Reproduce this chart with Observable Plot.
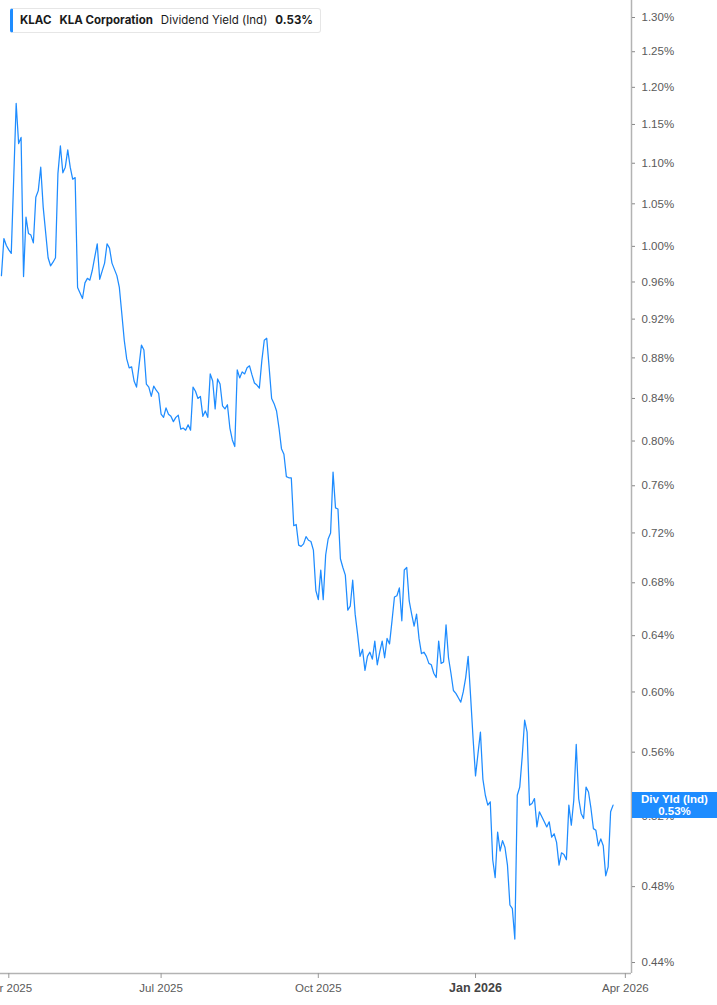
<!DOCTYPE html>
<html>
<head>
<meta charset="utf-8">
<script src="https://cdn.jsdelivr.net/npm/d3@7"></script>
<script src="https://cdn.jsdelivr.net/npm/@observablehq/plot@0.6"></script>
<style>
  html, body { margin: 0; padding: 0; background: #fff; }
  #wrap { position: relative; width: 717px; height: 1005px; overflow: hidden; font-family: "Liberation Sans", Arial, sans-serif; }
  #legend { position: absolute; left: 10px; top: 8px; height: 25px; box-sizing: border-box; padding: 0 7px 0 7px;
    background: #fff; border: 1px solid #e6e6e6; border-left: 3px solid #1e8cff; border-radius: 3px;
    font-family: Inter, "Liberation Sans", sans-serif; font-size: 11.5px; color: #1a1a1a; line-height: 23px; white-space: nowrap; }
  #legend b { font-weight: 700; }
  #legend span { margin-right: 8px; }
  #lastLabel { position: absolute; left: 632px; width: 85px; height: 26px; background: #1e8cff; color: #fff;
    font-family: "Liberation Sans", Arial, sans-serif; font-weight: 700; font-size: 11.5px; line-height: 12px; text-align: center; padding-top: 1px; box-sizing: border-box; }
</style>
</head>
<body>
<div id="wrap"></div>
<script>
// Session index 0 = first trading day of Apr 2025 (2025-04-01); x axis is spaced by trading sessions
const firstSession = -3;
const divYield = [
  0.967, 1.009, 1.001, 0.996, 0.992, 1.081, 1.178, 1.125, 1.133, 0.966,
  1.034, 1.015, 1.013, 1.004, 1.058, 1.066, 1.095, 1.046, 1.016, 0.987,
  0.978, 0.982, 0.987, 1.087, 1.122, 1.088, 1.095, 1.117, 1.095, 1.080,
  1.082, 0.954, 0.948, 0.942, 0.959, 0.964, 0.962, 0.973, 0.988, 1.003,
  0.963, 0.972, 0.981, 1.003, 0.998, 0.981, 0.974, 0.967, 0.954, 0.926,
  0.898, 0.879, 0.870, 0.871, 0.857, 0.851, 0.872, 0.893, 0.888, 0.854,
  0.851, 0.842, 0.852, 0.848, 0.845, 0.825, 0.822, 0.831, 0.825, 0.823,
  0.818, 0.822, 0.824, 0.811, 0.812, 0.810, 0.815, 0.810, 0.851, 0.847,
  0.840, 0.842, 0.823, 0.828, 0.822, 0.864, 0.857, 0.830, 0.859, 0.854,
  0.833, 0.830, 0.834, 0.812, 0.801, 0.795, 0.868, 0.860, 0.866, 0.864,
  0.870, 0.872, 0.863, 0.855, 0.853, 0.850, 0.877, 0.898, 0.900, 0.870,
  0.840, 0.835, 0.828, 0.812, 0.793, 0.788, 0.768, 0.767, 0.767, 0.726,
  0.727, 0.710, 0.709, 0.711, 0.717, 0.714, 0.713, 0.706, 0.674, 0.667,
  0.690, 0.667, 0.702, 0.715, 0.720, 0.772, 0.741, 0.740, 0.699, 0.692,
  0.686, 0.659, 0.662, 0.682, 0.656, 0.641, 0.625, 0.630, 0.615, 0.625,
  0.628, 0.623, 0.636, 0.619, 0.628, 0.636, 0.624, 0.638, 0.634, 0.651,
  0.669, 0.670, 0.676, 0.651, 0.690, 0.692, 0.666, 0.656, 0.647, 0.656,
  0.638, 0.627, 0.628, 0.625, 0.620, 0.619, 0.613, 0.610, 0.636, 0.620,
  0.621, 0.648, 0.624, 0.613, 0.601, 0.599, 0.596, 0.593, 0.600, 0.610,
  0.625, 0.597, 0.569, 0.545, 0.559, 0.573, 0.543, 0.533, 0.527, 0.529,
  0.495, 0.485, 0.511, 0.500, 0.506, 0.502, 0.492, 0.470, 0.468, 0.452,
  0.533, 0.538, 0.557, 0.581, 0.573, 0.527, 0.528, 0.531, 0.514, 0.523,
  0.520, 0.517, 0.514, 0.517, 0.508, 0.510, 0.505, 0.492, 0.499, 0.498,
  0.495, 0.527, 0.515, 0.530, 0.565, 0.531, 0.522, 0.519, 0.538, 0.535,
  0.525, 0.513, 0.512, 0.503, 0.507, 0.503, 0.486, 0.491, 0.523, 0.527
];
const quarterTickSessions = [0, 62, 126, 190, 251];
const quarterTickLabels = ["Apr 2025", "Jul 2025", "Oct 2025", "Jan 2026", "Apr 2026"];
const boldTickLabel = "Jan 2026";
const yTicks = [0.44, 0.48, 0.52, 0.56, 0.60, 0.64, 0.68, 0.72, 0.76, 0.80, 0.84, 0.88, 0.92, 0.96, 1.00, 1.05, 1.10, 1.15, 1.20, 1.25, 1.30];
const xDomain = [-3.38, 253.5];
const yDomain = [0.4345, 1.3256];
const ticker = "KLAC", company = "KLA Corporation", metric = "Dividend Yield (Ind)", shortMetric = "Div Yld (Ind)";

const data = divYield.map((v, k) => ({ s: firstSession + k, v }));
const last = data[data.length - 1];
const labelOf = s => quarterTickLabels[quarterTickSessions.indexOf(s)];
const regularTicks = quarterTickSessions.filter(s => labelOf(s) !== boldTickLabel);
const boldTicks = quarterTickSessions.filter(s => labelOf(s) === boldTickLabel);

const chart = Plot.plot({
  width: 717,
  height: 1005,
  marginLeft: 0,
  marginRight: 86,
  marginTop: 0,
  marginBottom: 32,
  style: { fontFamily: "'Liberation Sans', Arial, sans-serif", fontSize: "11.5px", background: "#fff", overflow: "hidden" },
  x: { type: "linear", domain: xDomain },
  y: { type: "log", domain: yDomain },
  marks: [
    Plot.line(data, { x: "s", y: "v", stroke: "#1e8cff", strokeWidth: 1.25, curve: "linear" }),
    Plot.ruleY([yDomain[0]], { stroke: "#b3b3b3", strokeWidth: 1.5 }),
    Plot.ruleX([xDomain[1]], { stroke: "#b3b3b3", strokeWidth: 1.5 }),
    Plot.axisY({ anchor: "right", ticks: yTicks, tickSize: 3, tickPadding: 7, stroke: "#888", fill: "#5a5a5a",
      tickFormat: d => d.toFixed(2) + "%", label: null }),
    Plot.axisX(regularTicks, { anchor: "bottom", tickSize: 5, tickPadding: 5, stroke: "#999", fill: "#5a5a5a",
      tickFormat: labelOf, label: null }),
    Plot.axisX(boldTicks, { anchor: "bottom", tickSize: 5, tickPadding: 5, stroke: "#999", fill: "#444",
      fontWeight: "bold", fontSize: 12.5, tickFormat: labelOf, label: null })
  ]
});

const wrap = document.getElementById("wrap");
wrap.appendChild(chart);

const legend = document.createElement("div");
legend.id = "legend";
legend.innerHTML = `<span><b>${ticker}</b></span><span><b>${company}</b></span><span>${metric}</span><b>${last.v.toFixed(2)}%</b>`;
wrap.appendChild(legend);

const yPix = chart.scale("y").apply(last.v);
const lab = document.createElement("div");
lab.id = "lastLabel";
lab.style.top = (yPix - 13) + "px";
lab.innerHTML = `${shortMetric}<br>${last.v.toFixed(2)}%`;
wrap.appendChild(lab);
</script>
</body>
</html>
